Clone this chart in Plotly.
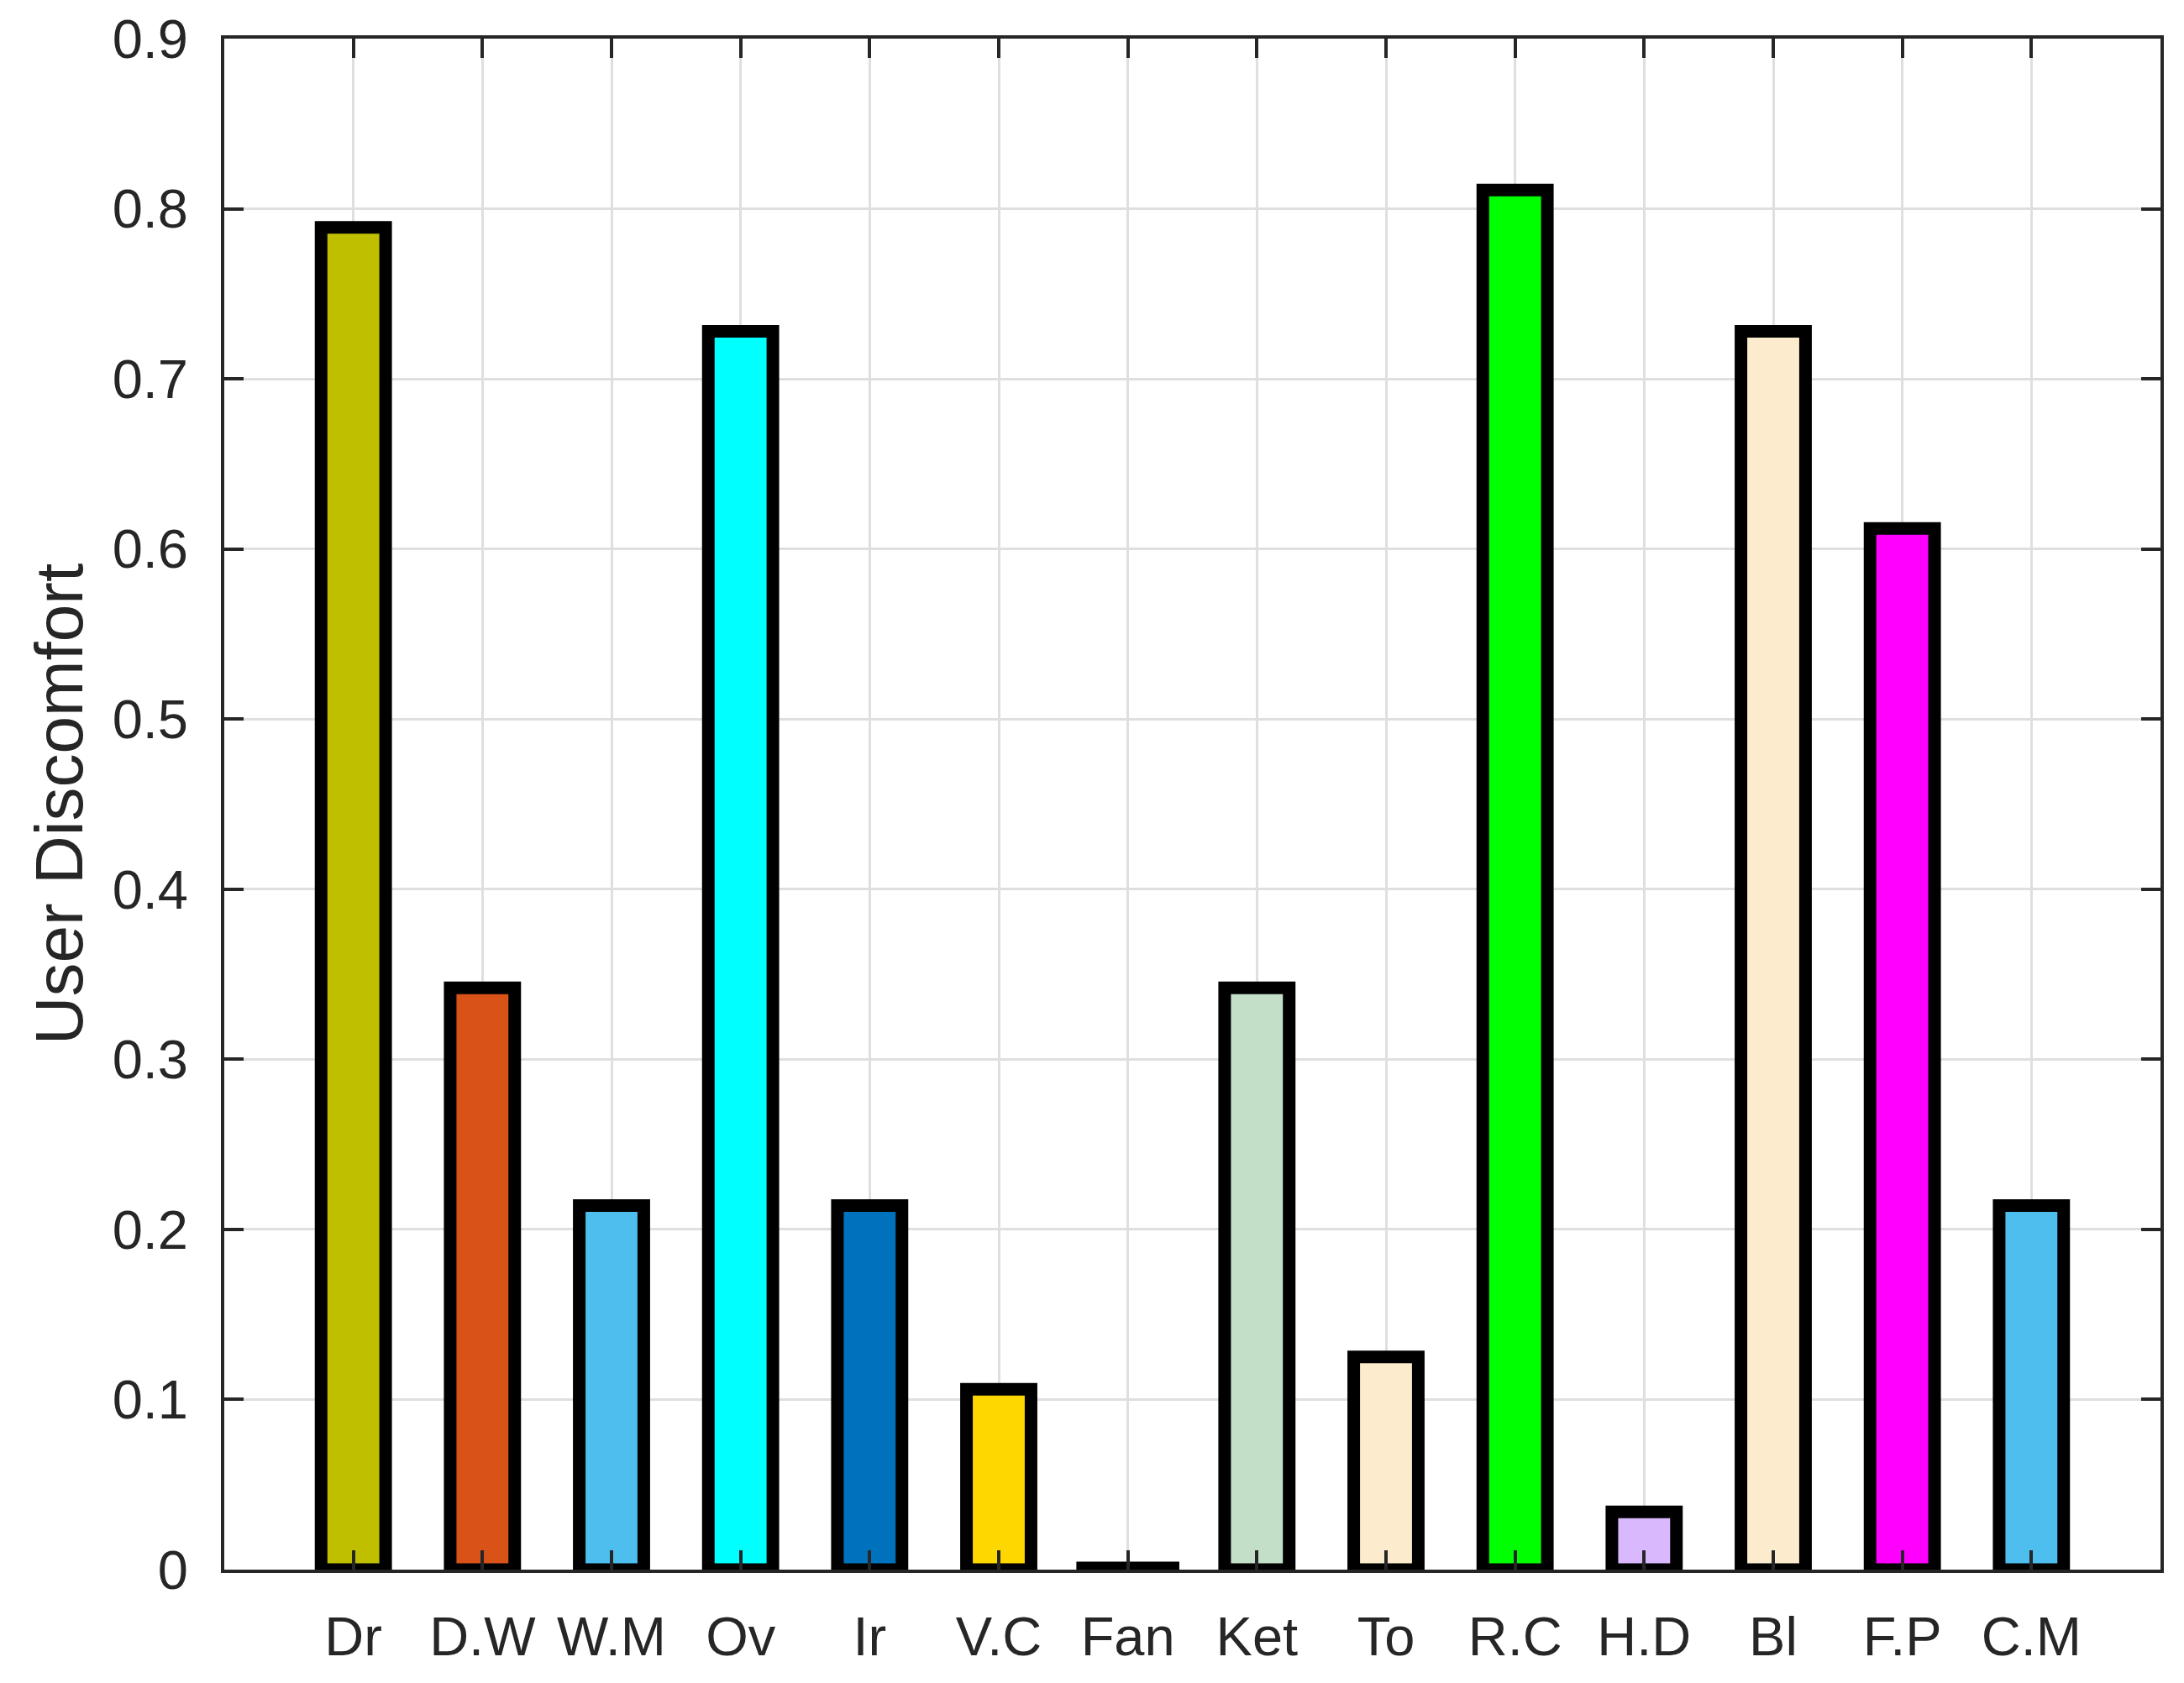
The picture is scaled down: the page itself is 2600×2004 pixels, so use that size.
import plotly.graph_objects as go

# appareils et inconfort utilisateur
appareils = ['Dr', 'D.W', 'W.M', 'Ov', 'Ir', 'V.C', 'Fan', 'Ket', 'To', 'R.C', 'H.D', 'Bl', 'F.P', 'C.M']
inconfort = [0.789, 0.342, 0.214, 0.728, 0.214, 0.106, 0.001, 0.342, 0.125, 0.811, 0.034, 0.728, 0.612, 0.214]
couleurs = ['#BFBF00', '#D95319', '#4DBEEE', '#00FFFF', '#0072BD', '#FFD700', '#000000',
            '#C3DFC8', '#FDEBCD', '#00FF00', '#DAB8FD', '#FDEBCD', '#FF00FF', '#4DBEEE']
ticks_y = [0, 0.1, 0.2, 0.3, 0.4, 0.5, 0.6, 0.7, 0.8, 0.9]

police = 'Liberation Sans, Arial, Helvetica, sans-serif'
gris = '#262626'

# la barre nulle (Fan) est dessinée un peu plus large dans l'original
largeurs = [0.7 if a == 'Fan' else 0.5 for a in appareils]

fig = go.Figure(go.Bar(
    x=appareils,
    y=inconfort,
    width=largeurs,
    marker=dict(color=couleurs, line=dict(color='black', width=15)),
))

axe = dict(
    showline=True, linecolor=gris, linewidth=4, mirror='allticks',
    ticks='inside', ticklen=23, tickwidth=3.5, tickcolor=gris,
    showgrid=True, gridcolor='#DFDFDF', gridwidth=3,
    zeroline=False, automargin=False,
    tickfont=dict(family=police, size=65, color=gris),
)

# la page ajoute 8 px de marge autour de la figure
fig.update_layout(
    width=2600, height=2004,
    margin=dict(l=259, r=36, t=38, b=143),
    paper_bgcolor='white', plot_bgcolor='white',
    showlegend=False,
)
fig.update_xaxes(**axe, range=[-1, 14], ticklabelstandoff=20)
fig.update_yaxes(**axe, range=[0, 0.9], tickvals=ticks_y, ticktext=[f'{v:g}' for v in ticks_y],
                 ticklabelstandoff=26,
                 title=dict(text='User Discomfort', font=dict(family=police, size=80, color=gris), standoff=10))

fig.write_html('out.html')
